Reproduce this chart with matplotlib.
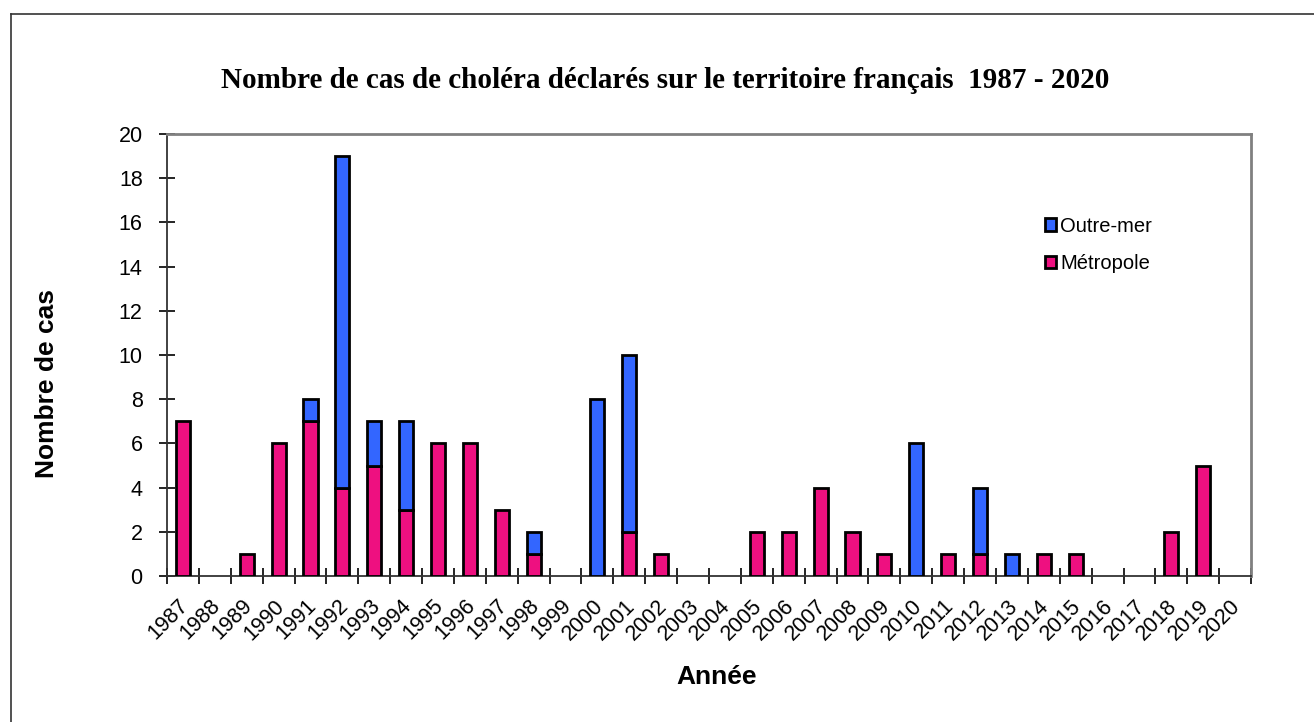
import numpy as np
import matplotlib
matplotlib.use("Agg")
import matplotlib.pyplot as plt
import matplotlib.transforms as mtransforms
from matplotlib.patches import Patch
from matplotlib.lines import Line2D

years = [str(y) for y in range(1987, 2021)]
metropole = [7, 0, 1, 6, 7, 4, 5, 3, 6, 6, 3, 1, 0, 0, 2, 1, 0, 0, 2, 2,
             4, 2, 1, 0, 1, 1, 0, 1, 1, 0, 0, 2, 5, 0]
outremer = [0, 0, 0, 0, 1, 15, 2, 4, 0, 0, 0, 1, 0, 8, 8, 0, 0, 0, 0, 0,
            0, 0, 0, 6, 0, 3, 1, 0, 0, 0, 0, 0, 0, 0]

col_metro = "#EE1080"
col_om = "#3366FF"

fig = plt.figure(figsize=(13.14, 7.22), dpi=100)
ax = fig.add_axes([0.1271, 0.2022, 0.825, 0.6122])

x = np.arange(len(years))
m = np.array(metropole)
o = np.array(outremer)
w = 0.44
# only draw non-zero segments
mask_m = m > 0
ax.bar(x[mask_m], m[mask_m], width=w, color=col_metro, edgecolor="black", linewidth=2, zorder=3)
mask_o = o > 0
ax.bar(x[mask_o], o[mask_o], width=w, bottom=m[mask_o], color=col_om, edgecolor="black", linewidth=2, zorder=3)

ax.set_xlim(-0.5, len(years) - 0.5)
ax.set_ylim(0, 20)
ax.set_yticks(range(0, 21, 2))
ax.tick_params(axis="y", direction="inout", length=11, width=1.2, labelsize=15.5, pad=12)
ax.set_xticks(x)
ax.set_xticklabels(years, rotation=45, ha="right", rotation_mode="anchor", fontsize=15.5)
ax.tick_params(axis="x", which="major", length=0, pad=14)
ax.set_xticks(np.arange(-0.5, len(years), 1), minor=True)
ax.tick_params(axis="x", which="minor", direction="inout", length=11, width=1.2)

shift = mtransforms.ScaledTranslation(-0.05, 0, fig.dpi_scale_trans)
for lab in ax.get_xticklabels():
    lab.set_transform(lab.get_transform() + shift)

for s in ["left", "bottom"]:
    ax.spines[s].set_color("#333333")
    ax.spines[s].set_linewidth(1.3)
for s in ["top", "right"]:
    ax.spines[s].set_color("#808080")
    ax.spines[s].set_linewidth(2)

for lab in ax.get_xticklabels() + ax.get_yticklabels():
    lab.set_fontfamily("Liberation Sans")

fig.text(717 / 1314, 1 - 677 / 722, "Année", ha="center", va="center",
         fontsize=19, fontweight="bold", family="Liberation Sans")
fig.text(47 / 1314, 1 - 383 / 722, "Nombre de cas", ha="center", va="center", rotation=90,
         fontsize=19, fontweight="bold", family="Liberation Sans")

fig.text(665 / 1314, 1 - 80 / 722, "Nombre de cas de choléra déclarés sur le territoire français  1987 - 2020",
         ha="center", va="center", fontsize=21, fontweight="bold", family="Liberation Serif")

handles = [Patch(facecolor=col_om, edgecolor="black", linewidth=2, label="Outre-mer"),
           Patch(facecolor=col_metro, edgecolor="black", linewidth=2, label="Métropole")]
leg = ax.legend(handles=handles, loc="upper left", bbox_to_anchor=(0.7935, 0.854), frameon=False,
                handlelength=0.55, handleheight=0.55, handletextpad=0.2, labelspacing=0.9,
                prop={"family": "Liberation Sans", "size": 14.5})

# outer chart border (top and left visible)
fig.add_artist(Line2D([11 / 1314, 11 / 1314], [0, 1 - 14 / 722], transform=fig.transFigure,
                      color="#333333", linewidth=1.2))
fig.add_artist(Line2D([11 / 1314, 1], [1 - 14 / 722, 1 - 14 / 722], transform=fig.transFigure,
                      color="#333333", linewidth=1.2))

fig.savefig("out.png", dpi=100)
